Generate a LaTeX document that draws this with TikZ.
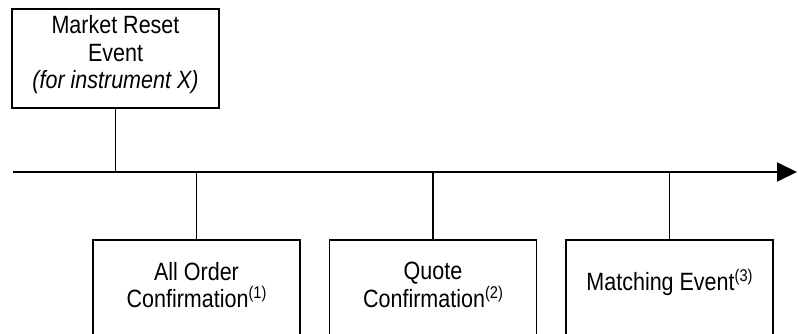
\documentclass[tikz,border=0pt]{standalone}
\usepackage{fontspec}
\setmainfont[FakeStretch=0.86]{Liberation Sans}
\usetikzlibrary{arrows.meta}
\newcommand{\evsup}[1]{\raisebox{9pt}{\fontsize{17}{17}\selectfont #1}}
\begin{document}
\begin{tikzpicture}[x=1pt,y=-1pt,line width=1.8pt,
  evbox/.style={draw,line width=1.8pt,minimum width=207pt,inner sep=0pt},
  evtext/.style={align=center,font=\fontsize{25}{27.5}\selectfont,inner sep=0pt}]
\useasboundingbox (0,0) rectangle (798,334);
\clip (0,0) rectangle (798,334);
% top box
\node[evbox,minimum height=99pt,anchor=north] (top) at (115.5,8) {};
\node[evtext] (toptxt) at (115.5,55) {Market Reset\\Event\\\textit{(for instrument X)}};
% timeline
\coordinate (tlstart) at (13,172);
\coordinate (tlend) at (797,172);
\draw[-{Triangle[length=20pt,width=19pt]}] (tlstart) -- (tlend);
% bottom boxes
\node[evbox,minimum height=120pt,anchor=north] (b1) at (196.5,239) {};
\node[evbox,minimum height=120pt,anchor=north] (b2) at (433,239) {};
\node[evbox,minimum height=120pt,anchor=north] (b3) at (669.5,239) {};
\node[evtext] (t1) at (196.5,285) {All Order\\Confirmation\evsup{(1)}};
\node[evtext] (t2) at (433,285) {Quote\\Confirmation\evsup{(2)}};
\node[evtext] (t3) at (669.5,282) {Matching Event\evsup{(3)}};
% connectors
\draw (top.south) -- (top.south |- tlstart);
\draw (b1.north) -- (b1.north |- tlstart);
\draw (b2.north) -- (b2.north |- tlstart);
\draw (b3.north) -- (b3.north |- tlstart);
\end{tikzpicture}
\end{document}
